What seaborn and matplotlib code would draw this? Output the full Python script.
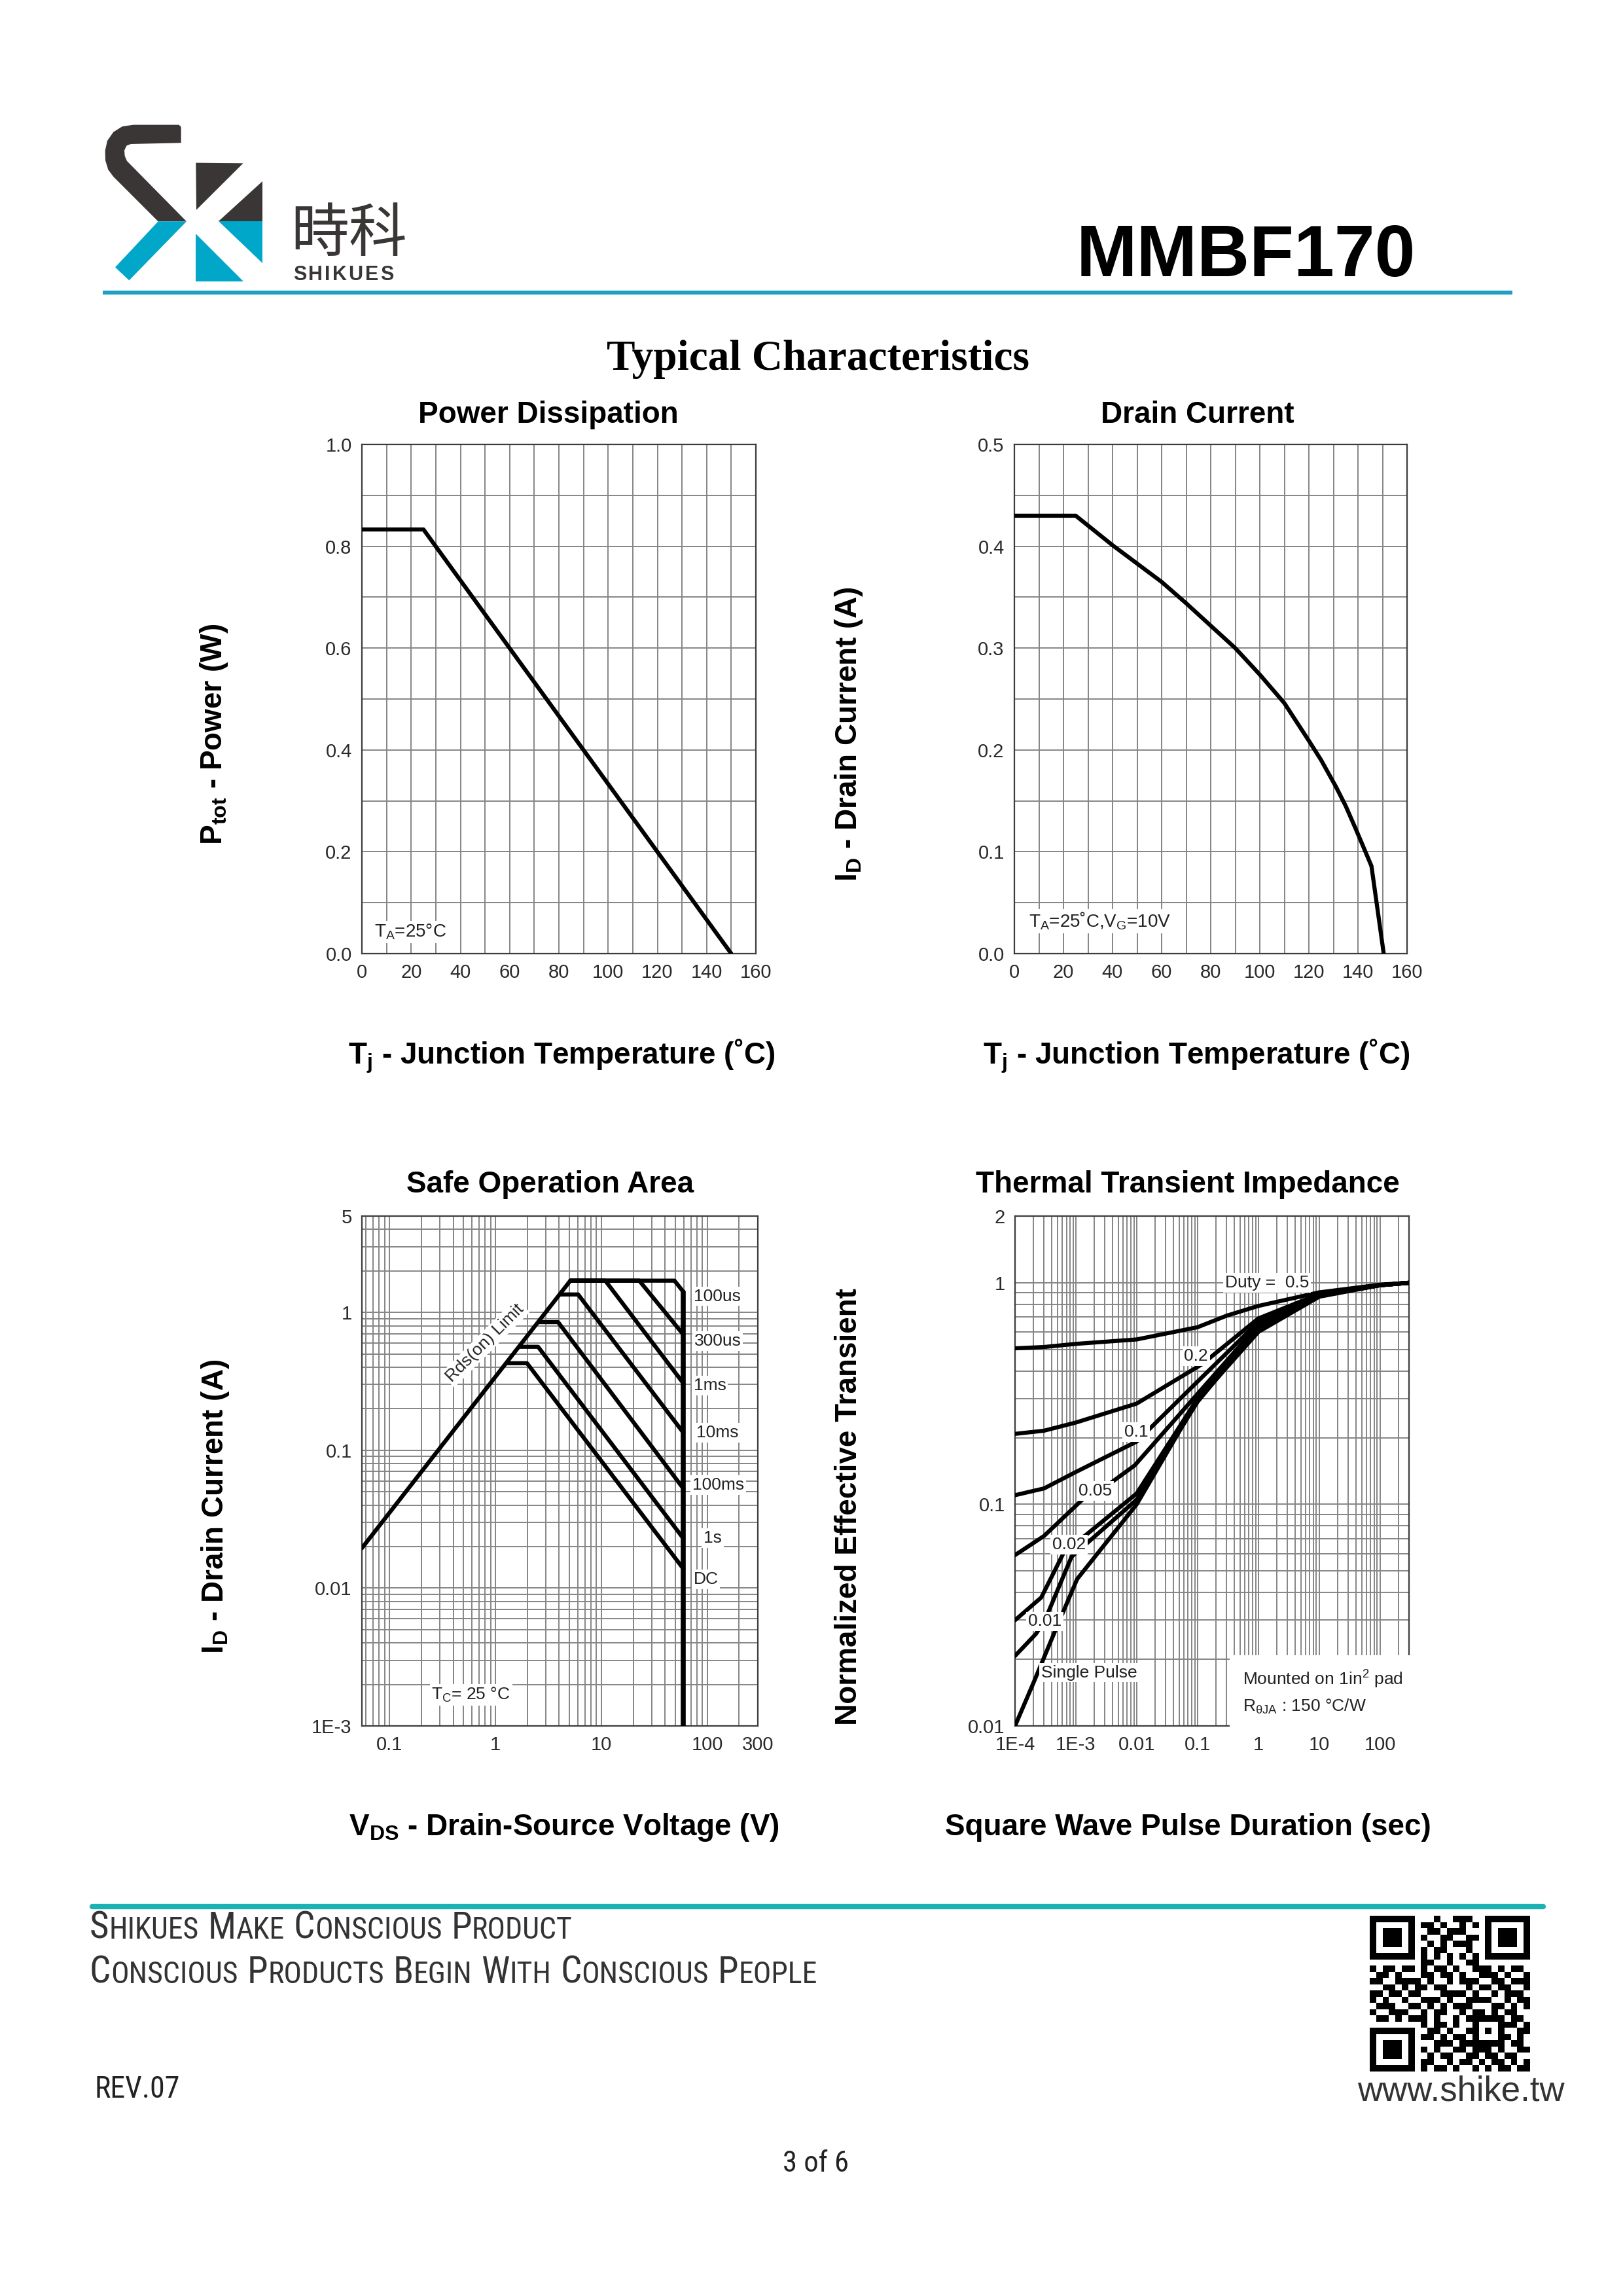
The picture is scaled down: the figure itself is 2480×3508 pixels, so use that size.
import matplotlib
matplotlib.use("Agg")
import numpy as np
import pandas as pd
import seaborn as sns
import matplotlib.pyplot as plt
from matplotlib import font_manager as fm
from matplotlib.ticker import (FixedLocator, FixedFormatter, MultipleLocator,
                               LogLocator, NullFormatter)
from matplotlib.patches import Polygon, Rectangle

# ---------------- data ----------------
pd_temp = [0, 25, 150]
pd_power = [0.833, 0.833, 0.0]

dc_temp = [0, 25, 40, 60, 70, 80, 90, 100, 110, 120, 125, 131, 135, 139, 142, 145.5, 150.5]
dc_current = [0.43, 0.43, 0.401, 0.365, 0.344, 0.322, 0.300, 0.274, 0.246, 0.209,
              0.19, 0.164, 0.145, 0.123, 0.106, 0.086, 0.0]

soa_rds_v = [0.055, 5.1]
soa_rds_i = [0.0195, 1.7]
soa_100us_v = [5.1, 49, 59.5]
soa_100us_i = [1.7, 1.7, 1.41]
soa_300us_v = [5.1, 22.8, 59.5]
soa_300us_i = [1.7, 1.7, 0.69]
soa_1ms_v = [5.1, 10.9, 59.5]
soa_1ms_i = [1.7, 1.7, 0.306]
soa_10ms_v = [4.1, 6.04, 59.5]
soa_10ms_i = [1.35, 1.35, 0.134]
soa_100ms_v = [2.55, 3.91, 59.5]
soa_100ms_i = [0.85, 0.85, 0.0527]
soa_1s_v = [1.68, 2.53, 59.5]
soa_1s_i = [0.563, 0.563, 0.0229]
soa_dc_v = [1.3, 1.99, 59.5]
soa_dc_i = [0.428, 0.428, 0.0138]
soa_limit_v = [59.5, 59.5]
soa_limit_i = [0.001, 1.41]
soa_labels = ['100us', '300us', '1ms', '10ms', '100ms', '1s', 'DC']
soa_label_v = [74, 75, 74, 79, 72, 92, 74]
soa_label_i = [1.31, 0.62, 0.295, 0.134, 0.056, 0.023, 0.0116]

tz_05_t = [1e-4, 3e-4, 1e-3, 1e-2, 0.1, 0.3, 1, 10, 100, 300]
tz_05_z = [0.506, 0.513, 0.53, 0.555, 0.63, 0.71, 0.786, 0.905, 0.98, 1.0]
tz_02_t = [1e-4, 3e-4, 1e-3, 1e-2, 0.12, 1, 10, 100, 300]
tz_02_z = [0.208, 0.215, 0.234, 0.285, 0.43, 0.69, 0.89, 0.975, 1.0]
tz_01_t = [1e-4, 3e-4, 1e-3, 1e-2, 0.1, 1, 10, 100, 300]
tz_01_z = [0.110, 0.118, 0.140, 0.192, 0.358, 0.665, 0.885, 0.975, 1.0]
tz_005_t = [1e-4, 3e-4, 2e-3, 3.6e-3, 9.3e-3, 0.1, 1, 10, 100, 300]
tz_005_z = [0.059, 0.072, 0.118, 0.124, 0.15, 0.315, 0.645, 0.88, 0.975, 1.0]
tz_002_t = [1e-4, 2.7e-4, 7.4e-4, 1.4e-3, 1e-2, 0.1, 1, 10, 100, 300]
tz_002_z = [0.030, 0.038, 0.066, 0.072, 0.112, 0.30, 0.63, 0.875, 0.975, 1.0]
tz_001_t = [1e-4, 2.2e-4, 3.1e-4, 8.5e-4, 1e-2, 0.1, 1, 10, 100, 300]
tz_001_z = [0.0207, 0.026, 0.030, 0.058, 0.105, 0.29, 0.62, 0.87, 0.975, 1.0]
tz_sp_t = [1e-4, 2e-4, 4.6e-4, 1.05e-3, 1e-2, 0.1, 1, 10, 100, 300]
tz_sp_z = [0.010, 0.0156, 0.027, 0.046, 0.10, 0.295, 0.60, 0.865, 0.975, 1.0]
tz_labels = ['Duty =  0.5', '0.2', '0.1', '0.05', '0.02', '0.01', 'Single Pulse']
tz_label_t = [1.4, 0.095, 0.0098, 0.00206, 7.8e-4, 3.06e-4, 1.64e-3]
tz_label_z = [1.0, 0.466, 0.212, 0.115, 0.0659, 0.0296, 0.0174]

qr_rows = [
    "1111111" + "0" + "001001110" + "0" + "1111111",
    "1000001" + "0" + "110100101" + "0" + "1000001",
    "1011101" + "0" + "011011100" + "0" + "1011101",
    "1011101" + "0" + "100110011" + "0" + "1011101",
    "1011101" + "0" + "010101110" + "0" + "1011101",
    "1000001" + "0" + "101100010" + "0" + "1000001",
    "1111111" + "0" + "101010101" + "0" + "1111111",
    "00000000" + "110010011" + "00000000",
    "1011011010110100111010110",
    "0110100011011010011101001",
    "1100111101001011100110111",
    "0011010110110001011011001",
    "1101101100011110100101110",
    "1010010011101001111001011",
    "0111001101010111000110101",
    "1001110010110010110101100",
    "0110101110100101" + "11111" + "0110",
    "00000000" + "10110100" + "10001" + "1101",
    "1111111" + "0" + "01101001" + "10101" + "0011",
    "1000001" + "0" + "11010110" + "10001" + "1010",
    "1011101" + "0" + "00111011" + "11111" + "0110",
    "1011101" + "0" + "10100110111010011",
    "1011101" + "0" + "01011001101101100",
    "1000001" + "0" + "11001011010110101",
    "1111111" + "0" + "10110100101011011",
]

# ---------------- style ----------------
sns.set_theme(style="white")
plt.rcParams['font.family'] = ['Liberation Sans', 'DejaVu Sans', 'Noto Sans CJK SC']
plt.rcParams['mathtext.fontset'] = 'custom'
plt.rcParams['mathtext.rm'] = 'Liberation Sans'
plt.rcParams['mathtext.it'] = 'Liberation Sans:italic'
plt.rcParams['mathtext.bf'] = 'Liberation Sans:bold'

avail = {f.name for f in fm.fontManager.ttflist}
NARROW, NSTRETCH, NS = 'Liberation Sans', 'normal', 0.9
for cand in ['Liberation Sans Narrow', 'Roboto Condensed', 'Open Sans Condensed']:
    if cand in avail:
        NARROW, NS = cand, 1.0
        break
else:
    dj = [f for f in fm.fontManager.ttflist
          if f.name == 'DejaVu Sans' and 'condensed' in str(f.stretch)]
    if dj:
        NARROW, NSTRETCH, NS = 'DejaVu Sans', 'condensed', 0.88

W, H = 2480, 3508
fig = plt.figure(figsize=(W / 100, H / 100), dpi=100)
fig.patch.set_facecolor('white')

ov = fig.add_axes([0, 0, 1, 1], zorder=-1)
ov.set_xlim(0, W)
ov.set_ylim(H, 0)
ov.axis('off')

GRID = '#858585'
LW = 4.5
TICK_C = '#2a2a2a'


def px_axes(x0, y0, x1, y1):
    return fig.add_axes([x0 / W, 1 - y1 / H, (x1 - x0) / W, (y1 - y0) / H])


def style_axes(ax):
    for s in ax.spines.values():
        s.set_color('#3c3c3c')
        s.set_linewidth(1.6)
    ax.tick_params(which='both', length=0, labelsize=21, labelcolor=TICK_C, pad=11)
    ax.grid(True, which='both', color=GRID, lw=1.4)
    ax.set_axisbelow(True)
    ax.set_xlabel('')
    ax.set_ylabel('')


def line(ax, x, y, lw=LW):
    sns.lineplot(x=x, y=y, ax=ax, color='black', linewidth=lw, sort=False,
                 estimator=None, legend=False, zorder=3)


TITLE_KW = dict(fontsize=33, fontweight='bold', color='black', ha='center', va='center')
LAB_KW = dict(fontsize=33, fontweight='bold', color='black', ha='center', va='center')
ANN_KW = dict(fontsize=20, color='#222222')
BOX = dict(fc='white', ec='none', pad=2)

# ---------- chart 1: Power Dissipation ----------
ax1 = px_axes(553, 679, 1155, 1457)
line(ax1, pd_temp, pd_power)
ax1.set_xlim(0, 160)
ax1.set_ylim(0, 1.0)
ax1.xaxis.set_major_locator(MultipleLocator(20))
ax1.xaxis.set_minor_locator(MultipleLocator(10))
ax1.yaxis.set_major_locator(FixedLocator([0, 0.2, 0.4, 0.6, 0.8, 1.0]))
ax1.yaxis.set_major_formatter(FixedFormatter(['0.0', '0.2', '0.4', '0.6', '0.8', '1.0']))
ax1.yaxis.set_minor_locator(MultipleLocator(0.1))
style_axes(ax1)
ax1.text(5, 0.033, r'T$_\mathrm{A}$=25°C', va='baseline', ha='left', bbox=BOX, zorder=4, **ANN_KW)

# ---------- chart 2: Drain Current ----------
ax2 = px_axes(1550, 679, 2150, 1457)
line(ax2, dc_temp, dc_current)
ax2.set_xlim(0, 160)
ax2.set_ylim(0, 0.5)
ax2.xaxis.set_major_locator(MultipleLocator(20))
ax2.xaxis.set_minor_locator(MultipleLocator(10))
ax2.yaxis.set_major_locator(FixedLocator([0, 0.1, 0.2, 0.3, 0.4, 0.5]))
ax2.yaxis.set_major_formatter(FixedFormatter(['0.0', '0.1', '0.2', '0.3', '0.4', '0.5']))
ax2.yaxis.set_minor_locator(MultipleLocator(0.05))
style_axes(ax2)
ax2.text(6, 0.026, r'T$_\mathrm{A}$=25˚C,V$_\mathrm{G}$=10V', va='baseline', ha='left',
         bbox=BOX, zorder=4, **ANN_KW)

# ---------- chart 3: SOA ----------
ax3 = px_axes(553, 1858, 1158, 2637)
ax3.set_xscale('log')
ax3.set_yscale('log')
for vv, ii in [(soa_rds_v, soa_rds_i), (soa_100us_v, soa_100us_i), (soa_300us_v, soa_300us_i),
               (soa_1ms_v, soa_1ms_i), (soa_10ms_v, soa_10ms_i), (soa_100ms_v, soa_100ms_i),
               (soa_1s_v, soa_1s_i), (soa_dc_v, soa_dc_i)]:
    line(ax3, vv, ii)
line(ax3, soa_limit_v, soa_limit_i, lw=5.5)
ax3.set_xlim(0.055, 300)
ax3.set_ylim(0.001, 5)
ax3.xaxis.set_major_locator(FixedLocator([0.1, 1, 10, 100, 300]))
ax3.xaxis.set_major_formatter(FixedFormatter(['0.1', '1', '10', '100', '300']))
ax3.xaxis.set_minor_locator(LogLocator(base=10, subs=np.arange(2, 10), numticks=100))
ax3.xaxis.set_minor_formatter(NullFormatter())
ax3.yaxis.set_major_locator(FixedLocator([0.001, 0.01, 0.1, 1, 5]))
ax3.yaxis.set_major_formatter(FixedFormatter(['1E-3', '0.01', '0.1', '1', '5']))
ax3.yaxis.set_minor_locator(LogLocator(base=10, subs=np.arange(2, 10), numticks=100))
ax3.yaxis.set_minor_formatter(NullFormatter())
style_axes(ax3)
for lab, vv, ii in zip(soa_labels, soa_label_v, soa_label_i):
    ax3.text(vv, ii, lab, ha='left', va='center', bbox=BOX, zorder=4, fontsize=19, color='#222222')
ax3.text(0.8, 0.6, 'Rds(on) Limit', rotation=45, ha='center', va='center', bbox=BOX,
         zorder=4, fontsize=19, color='#222222')
ax3.text(0.25, 0.00155, r'T$_\mathrm{C}$= 25 °C', ha='left', va='baseline', bbox=BOX,
         zorder=4, fontsize=19, color='#222222')

# ---------- chart 4: Thermal Transient Impedance ----------
ax4 = px_axes(1551, 1858, 2153, 2637)
ax4.set_xscale('log')
ax4.set_yscale('log')
for tt, zz in [(tz_05_t, tz_05_z), (tz_02_t, tz_02_z), (tz_01_t, tz_01_z), (tz_005_t, tz_005_z),
               (tz_002_t, tz_002_z), (tz_001_t, tz_001_z), (tz_sp_t, tz_sp_z)]:
    line(ax4, tt, zz)
ax4.set_xlim(1e-4, 300)
ax4.set_ylim(0.01, 2)
ax4.xaxis.set_major_locator(FixedLocator([1e-4, 1e-3, 1e-2, 0.1, 1, 10, 100]))
ax4.xaxis.set_major_formatter(FixedFormatter(['1E-4', '1E-3', '0.01', '0.1', '1', '10', '100']))
ax4.xaxis.set_minor_locator(LogLocator(base=10, subs=np.arange(2, 10), numticks=100))
ax4.xaxis.set_minor_formatter(NullFormatter())
ax4.yaxis.set_major_locator(FixedLocator([0.01, 0.1, 1, 2]))
ax4.yaxis.set_major_formatter(FixedFormatter(['0.01', '0.1', '1', '2']))
ax4.yaxis.set_minor_locator(LogLocator(base=10, subs=np.arange(2, 10), numticks=100))
ax4.yaxis.set_minor_formatter(NullFormatter())
style_axes(ax4)
for lab, tt, zz in zip(tz_labels, tz_label_t, tz_label_z):
    ax4.text(tt, zz, lab, ha='center', va='center', bbox=BOX, zorder=4, fontsize=19, color='#222222')
ax4.text(0.55, 0.0142, 'Mounted on 1in$^2$ pad\nR$_\\mathrm{θJA}$ : 150 °C/W', ha='left', va='center',
         linespacing=1.6, bbox=dict(fc='white', ec='none', pad=14), zorder=4, fontsize=19,
         color='#222222')

# ---------- titles and axis labels ----------
for (x, y, s) in [(838, 634, 'Power Dissipation'), (1830, 634, 'Drain Current'),
                  (841, 1810, 'Safe Operation Area'), (1815, 1810, 'Thermal Transient Impedance')]:
    ov.text(x, y, s, **TITLE_KW)
for (x, y, s) in [(858, 1614, r'T$_\mathbf{j}$ - Junction Temperature (˚C)'),
                  (1828, 1614, r'T$_\mathbf{j}$ - Junction Temperature (˚C)'),
                  (862, 2792, r'V$_\mathbf{DS}$ - Drain-Source Voltage (V)'),
                  (1815, 2792, 'Square Wave Pulse Duration (sec)')]:
    ov.text(x, y, s, **LAB_KW)
for (x, y, s) in [(327, 1122, r'P$_\mathbf{tot}$ - Power (W)'),
                  (1297, 1122, r'I$_\mathbf{D}$ - Drain Current (A)'),
                  (329, 2302, r'I$_\mathbf{D}$ - Drain Current (A)'),
                  (1297, 2302, 'Normalized Effective Transient')]:
    ov.text(x, y, s, rotation=90, **LAB_KW)

# ---------- header ----------
def L(zx, zy):
    return (140 + zx / 3.0, 170 + zy / 3.0)

DARK = '#3a3636'
CYAN = '#00a7c9'
s_hook = [(410, 72), (410, 145), (180, 150), (160, 158), (150, 180), (152, 205), (162, 228),
          (435, 505), (305, 505), (100, 300), (76, 268), (63, 225), (62, 180), (72, 135),
          (100, 95), (140, 70), (190, 62), (400, 62)]
ov.add_patch(Polygon([L(*p) for p in s_hook], closed=True, fc=DARK, ec='none'))
ov.add_patch(Polygon([L(*p) for p in [(305, 505), (435, 505), (172, 775), (108, 715)]],
                     closed=True, fc=CYAN, ec='none'))
ov.add_patch(Polygon([L(*p) for p in [(478, 236), (695, 238), (480, 452)]], closed=True, fc=DARK, ec='none'))
ov.add_patch(Polygon([L(*p) for p in [(782, 320), (782, 505), (583, 505)]], closed=True, fc=DARK, ec='none'))
ov.add_patch(Polygon([L(*p) for p in [(583, 505), (782, 505), (782, 695)]], closed=True, fc=CYAN, ec='none'))
ov.add_patch(Polygon([L(*p) for p in [(478, 562), (478, 780), (697, 780)]], closed=True, fc=CYAN, ec='none'))

ov.text(444, 384, '時科', fontsize=64, fontweight='medium',
        family=['Noto Sans CJK SC', 'DejaVu Sans'], color=DARK, ha='left', va='baseline')

renderer = fig.canvas.get_renderer()
x = 448.0
for ch in 'SHIKUES':
    t = ov.text(x, 428, ch, fontsize=22, fontweight='bold', color=DARK, ha='left', va='baseline')
    x += t.get_window_extent(renderer).width + 3.0

ov.text(2163, 422, 'MMBF170', fontsize=80, fontweight='bold', color='black', ha='right', va='baseline')
ov.add_patch(Rectangle((157, 444), 2311 - 157, 6, fc='#1e9fc4', ec='none'))
ov.text(1250, 565, 'Typical Characteristics', fontsize=47, fontweight='bold',
        family=['Liberation Serif', 'DejaVu Serif'], color='black', ha='center', va='baseline')

# ---------- footer ----------
ov.plot([141, 2358], [2913, 2913], color='#1bb2b3', lw=6, solid_capstyle='round')


def smallcaps(x, y, text, big, small, color='#333333'):
    for word in text.split(' '):
        t = ov.text(x, y, word[0], fontsize=big, family=[NARROW, 'DejaVu Sans'], fontstretch=NSTRETCH,
                    color=color, ha='left', va='baseline')
        x += t.get_window_extent(renderer).width
        if len(word) > 1:
            t2 = ov.text(x, y, word[1:].upper(), fontsize=small, family=[NARROW, 'DejaVu Sans'],
                         fontstretch=NSTRETCH, color=color, ha='left', va='baseline')
            x += t2.get_window_extent(renderer).width
        x += small * 100 / 72 * 0.3


smallcaps(137, 2962, 'Shikues Make Conscious Product', 41 * NS, 33 * NS)
smallcaps(137, 3030, 'Conscious Products Begin With Conscious People', 41 * NS, 33 * NS)
ov.text(145, 3205, 'REV.07', fontsize=33 * NS, family=[NARROW, 'DejaVu Sans'], fontstretch=NSTRETCH,
        color='#222222', ha='left', va='baseline')
ov.text(1246, 3318, '3 of 6', fontsize=32 * NS, family=[NARROW, 'DejaVu Sans'], fontstretch=NSTRETCH,
        color='#222222', ha='center', va='baseline')
ov.text(2232, 3210, 'www.shike.tw', fontsize=38, color='#333333', ha='center', va='baseline')

qr = np.array([[int(c) for c in r] for r in qr_rows])
axq = px_axes(2093, 2927, 2338, 3165)
axq.imshow(qr, cmap='gray_r', interpolation='nearest', aspect='auto', vmin=0, vmax=1)
axq.axis('off')

fig.savefig('out.png', dpi=100, facecolor='white')
